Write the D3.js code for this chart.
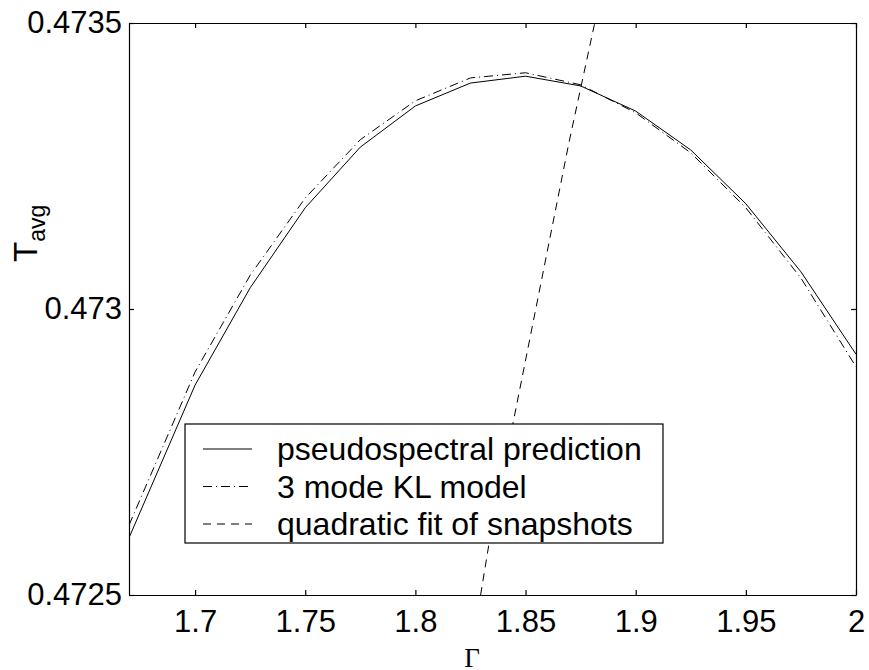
<!DOCTYPE html>
<html>
<head>
<meta charset="UTF-8">
<title>T_avg vs Gamma</title>
<style>
  body{ margin:0; background:#fff; }
  #canvas{ width:869px; height:670px; }
  text{ font-family:"Liberation Sans", Arial, sans-serif; fill:#000; }
  .axis path, .axis line{ stroke:#000; stroke-width:1.2; }
</style>
<script src="https://cdn.jsdelivr.net/npm/d3@7"></script>
</head>
<body>
<div id="canvas"></div>
<script>
// data
var gamma  = [1.67, 1.7, 1.725, 1.75, 1.775, 1.8, 1.825, 1.85, 1.875, 1.9, 1.925, 1.95, 1.975, 2.0];
var pseudo = [0.472600, 0.472867, 0.473037, 0.473177, 0.473283, 0.473355, 0.473395, 0.473407, 0.473390, 0.473346, 0.473278, 0.473184, 0.473065, 0.472921];
var klModel = [0.472622, 0.472890, 0.473059, 0.473194, 0.473296, 0.473364, 0.473404, 0.473413, 0.473392, 0.473343, 0.473273, 0.473177, 0.473054, 0.472899];
var quadGamma = [1.8296, 1.8333, 1.8446, 1.8696, 1.8814];
var quadFit   = [0.47250, 0.472587, 0.472806, 0.473289, 0.47350];

var xTicks = [1.7, 1.75, 1.8, 1.85, 1.9, 1.95, 2];
var yTicks = [0.4725, 0.473, 0.4735];
var legendLabels = ["pseudospectral prediction", "3 mode KL model", "quadratic fit of snapshots"];

//initialize
var W = 869, H = 670;
var margin = {top: 23, right: 13, bottom: 75, left: 129};
var innerWidth = W - margin.left - margin.right;
var innerHeight = H - margin.top - margin.bottom;

var x = d3.scaleLinear().domain([1.67, 2]).range([0, innerWidth]);
var y = d3.scaleLinear().domain([0.4725, 0.4735]).range([innerHeight, 0]);

var svg = d3.select("#canvas").append("svg")
    .attr("width", W).attr("height", H);
var g = svg.append("g")
    .attr("transform", "translate(" + margin.left + "," + margin.top + ")");

g.append("clipPath").attr("id", "clip")
  .append("rect").attr("width", innerWidth).attr("height", innerHeight);

//axes (ticks inward, box on)
g.append("g").attr("class", "axis")
  .attr("transform", "translate(0," + innerHeight + ")")
  .call(d3.axisBottom(x).tickValues(xTicks).tickFormat(d3.format("")).tickSizeInner(-5).tickSizeOuter(0).tickPadding(15))
  .call(function(s){ s.selectAll("text").attr("font-size", 31); });

g.append("g").attr("class", "axis")
  .call(d3.axisTop(x).tickValues(xTicks).tickFormat("").tickSizeInner(-5).tickSizeOuter(0));

g.append("g").attr("class", "axis")
  .call(d3.axisLeft(y).tickValues(yTicks).tickFormat(d3.format("")).tickSizeInner(-5).tickSizeOuter(0).tickPadding(7))
  .call(function(s){ s.selectAll("text").attr("font-size", 31); });

g.append("g").attr("class", "axis")
  .attr("transform", "translate(" + innerWidth + ",0)")
  .call(d3.axisRight(y).tickValues(yTicks).tickFormat("").tickSizeInner(-5).tickSizeOuter(0));

//lines
var line = d3.line()
    .x(function(d){ return x(d[0]); })
    .y(function(d){ return y(d[1]); });

var plot = g.append("g").attr("clip-path", "url(#clip)");

plot.append("path")
    .attr("d", line(d3.zip(quadGamma, quadFit)))
    .attr("fill", "none").attr("stroke", "#000").attr("stroke-width", 1)
    .attr("stroke-dasharray", "8,6");

plot.append("path")
    .attr("d", line(d3.zip(gamma, klModel)))
    .attr("fill", "none").attr("stroke", "#000").attr("stroke-width", 1)
    .attr("stroke-dasharray", "9,4,1,4");

plot.append("path")
    .attr("d", line(d3.zip(gamma, pseudo)))
    .attr("fill", "none").attr("stroke", "#000").attr("stroke-width", 1);

//legend
var legend = svg.append("g").attr("transform", "translate(185,424)");
legend.append("rect")
    .attr("width", 478).attr("height", 119)
    .attr("fill", "#fff").attr("stroke", "#000").attr("stroke-width", 1.2);

var dashes = [null, "9,4,1,4", "8,6"];
legendLabels.forEach(function(lbl, i){
  var cy = 25 + i * 37.5;
  legend.append("line")
      .attr("x1", 18).attr("x2", 67).attr("y1", cy).attr("y2", cy)
      .attr("stroke", "#000").attr("stroke-width", 1)
      .attr("stroke-dasharray", dashes[i]);
  legend.append("text")
      .attr("x", 92).attr("y", cy).attr("dy", "0.35em")
      .attr("font-size", 32)
      .text(lbl);
});

//axis labels
svg.append("text")
    .attr("x", 472).attr("y", 667)
    .attr("text-anchor", "middle")
    .style("font-family", "'Liberation Serif', 'Times New Roman', serif")
    .attr("font-size", 27)
    .text("Γ");

var ylab = svg.append("text")
    .attr("transform", "translate(37,262) rotate(-90)")
    .attr("font-size", 33);
ylab.append("tspan").text("T");
ylab.append("tspan").attr("font-size", 23).attr("dy", 8).text("avg");
</script>
</body>
</html>
